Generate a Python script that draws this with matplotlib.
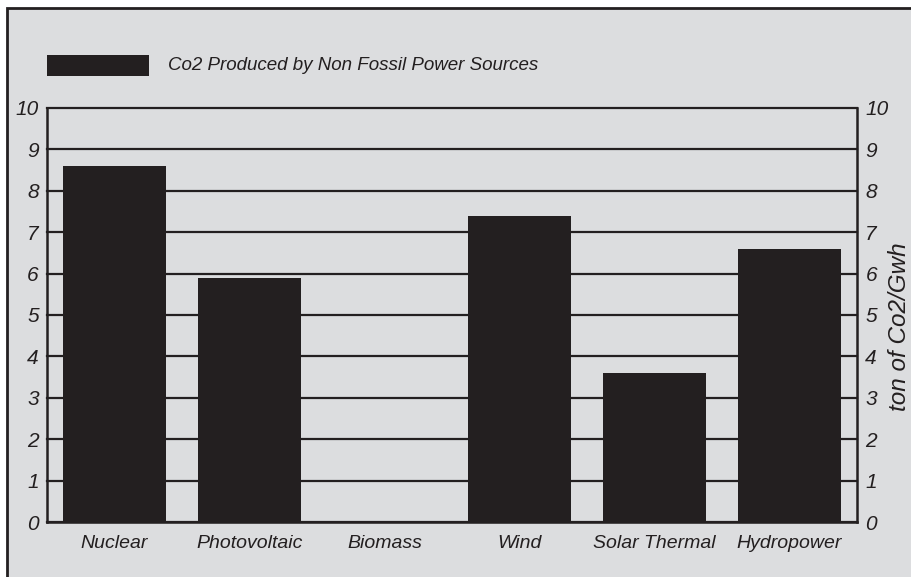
import matplotlib.pyplot as plt
from matplotlib.patches import Rectangle
from matplotlib import font_manager

sources = ['Nuclear', 'Photovoltaic', 'Biomass', 'Wind', 'Solar Thermal', 'Hydropower']
co2_values = [8.6, 5.9, 0, 7.4, 3.6, 6.6]
y_ticks = list(range(0, 11))
series_name = 'Co2 Produced by Non Fossil Power Sources'
unit_label = 'ton of Co2/Gwh'

BG = '#dcdddf'
DARK = '#231f20'

names = {f.name for f in font_manager.fontManager.ttflist}
family = 'Liberation Sans Narrow' if 'Liberation Sans Narrow' in names else 'Liberation Sans'
plt.rcParams['font.family'] = [family, 'DejaVu Sans']
plt.rcParams['font.style'] = 'italic'

fig = plt.figure(figsize=(9.12, 5.77), dpi=100, facecolor='white')
# gray panel with dark frame, cut at the right and bottom edges
panel = Rectangle((7 / 912, -0.05), 1.2, 1 - 8 / 577 + 0.05,
                  transform=fig.transFigure, facecolor=BG,
                  edgecolor=DARK, linewidth=2, zorder=-5)
fig.patches.append(panel)

ax = fig.add_axes([47 / 912, 55 / 577, 810 / 912, 414 / 577])
ax.set_facecolor(BG)

x = range(len(sources))
ax.bar(x, co2_values, width=0.77, color=DARK, zorder=3)

for v in y_ticks:
    ax.axhline(v, color=DARK, linewidth=1.6, zorder=1, clip_on=False)

ax.set_xlim(-0.5, len(sources) - 0.5)
ax.set_ylim(0, 10)
ax.set_yticks(y_ticks)
ax.set_xticks(list(x))
ax.set_xticklabels(sources, fontsize=14, color=DARK)
ax.tick_params(axis='x', length=0, pad=9)
ax.tick_params(axis='y', length=0, pad=6, labelsize=15, labelcolor=DARK,
               left=True, right=True, labelleft=True, labelright=True)
for side in ['left', 'right', 'bottom']:
    ax.spines[side].set_color(DARK)
    ax.spines[side].set_linewidth(1.8)
ax.spines['top'].set_visible(False)

fig.text(900 / 912, 1 - 327 / 577, unit_label, rotation=90, ha='center',
         va='center', fontsize=17.5, color=DARK)

# legend
fig.patches.append(Rectangle((47 / 912, 1 - 76 / 577), 102 / 912, 21 / 577,
                             transform=fig.transFigure, facecolor=DARK,
                             edgecolor='none', zorder=2))
fig.text(168 / 912, 1 - 65 / 577, series_name, ha='left', va='center',
         fontsize=13.5, color=DARK)

fig.savefig('out.png', dpi=100, facecolor=fig.get_facecolor())
